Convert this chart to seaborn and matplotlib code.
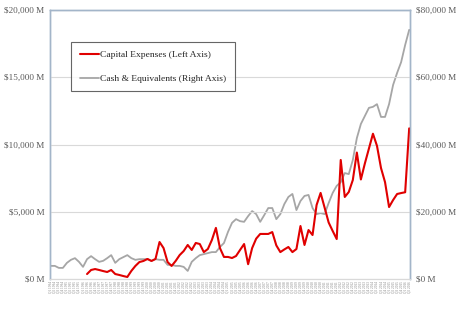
import numpy as np
import pandas as pd
import matplotlib
matplotlib.use("Agg")
import matplotlib.pyplot as plt
import seaborn as sns
from matplotlib.ticker import FuncFormatter, FixedLocator

# ---- data (values in $ billions, converted to $M below) ----
quarters = [f"Q{q} {y}" for y in range(1994, 2017) for q in range(1, 5)][:90]

capex_b = [None] * 9 + [
    0.37, 0.67, 0.74, 0.67, 0.59, 0.52, 0.67, 0.37, 0.30, 0.22,
    0.15, 0.60, 0.97, 1.26, 1.34, 1.49, 1.34, 1.49, 2.75, 2.30,
    1.26, 0.97, 1.34, 1.78, 2.08, 2.53, 2.16, 2.68, 2.60, 2.00,
    2.23, 2.90, 3.80, 2.30, 1.64, 1.64, 1.56, 1.71, 2.16, 2.60,
    1.10, 2.30, 3.00, 3.35, 3.35, 3.35, 3.49, 2.50, 2.00, 2.20,
    2.38, 2.00, 2.23, 3.94, 2.53, 3.64, 3.27, 5.50, 6.40, 5.30,
    4.20, 3.57, 2.97, 8.85, 6.10, 6.47, 7.36, 9.40, 7.40, 8.60,
    9.70, 10.80, 9.90, 8.25, 7.20, 5.35, 5.87, 6.32, 6.39, 6.45, 11.20,
]

cash_b = [
    3.9, 3.9, 3.3, 3.3, 4.8, 5.7, 6.2, 5.1, 3.6, 5.9,
    6.8, 5.9, 5.1, 5.4, 6.2, 7.1, 4.8, 5.9, 6.5, 7.1,
    6.2, 5.7, 5.9, 5.9, 5.9, 5.4, 5.9, 5.7, 5.7, 4.2,
    4.2, 3.9, 3.9, 3.6, 2.4, 5.1, 6.2, 7.1, 7.4, 7.7,
    8.0, 8.0, 9.5, 10.7, 14.0, 16.7, 17.8, 17.2, 17.0, 18.7,
    20.2, 19.3, 17.0, 19.0, 21.1, 21.1, 17.8, 19.3, 22.3, 24.4,
    25.3, 20.5, 23.2, 24.7, 25.0, 21.1, 19.3, 19.6, 19.3, 22.6,
    25.6, 27.7, 28.8, 31.5, 31.2, 35.4, 41.9, 46.1, 48.5, 50.9,
    51.2, 52.0, 48.2, 48.2, 52.0, 57.7, 61.3, 64.5, 69.6, 74.1,
]

left_ticks = [0, 5000, 10000, 15000, 20000]
right_ticks = [0, 20000, 40000, 60000, 80000]

df = pd.DataFrame({
    "pos": np.arange(len(quarters)),
    "quarter": quarters,
    "capex": [np.nan if v is None else v * 1000 for v in capex_b],
    "cash": [v * 1000 for v in cash_b],
})

sns.set_style("white")
plt.rcParams["font.family"] = ["Liberation Serif", "DejaVu Serif"]

fig = plt.figure(figsize=(4.61, 3.25), dpi=100)
ax = fig.add_axes([50 / 461, 1 - 279 / 325, 360 / 461, 269 / 325])
ax2 = ax.twinx()

red = "#e00000"
gray = "#a6a6a6"

sns.lineplot(data=df.dropna(subset=["capex"]), x="pos", y="capex", ax=ax,
             color=red, linewidth=1.5, label="Capital Expenses (Left Axis)",
             legend=False)
sns.lineplot(data=df, x="pos", y="cash", ax=ax2, color=gray, linewidth=1.3,
             label="Cash & Equivalents (Right Axis)", legend=False)

ax.set_zorder(ax2.get_zorder() + 1)
ax.patch.set_visible(False)

ax.set_ylim(0, 20000)
ax2.set_ylim(0, 80000)
ax.set_xlim(-0.2, len(quarters) - 0.8)

fmt = FuncFormatter(lambda v, p: f"${v:,.0f} M")
ax.yaxis.set_major_locator(FixedLocator(left_ticks))
ax2.yaxis.set_major_locator(FixedLocator(right_ticks))
ax.yaxis.set_major_formatter(fmt)
ax2.yaxis.set_major_formatter(fmt)

ax.grid(axis="y", color="#d9d9d9", linewidth=0.8)
ax.set_axisbelow(True)

ax.set_xticks(df["pos"])
ax.set_xticklabels(df["quarter"], rotation=90, fontsize=2.4, color="#7f7f7f")
ax.tick_params(axis="x", length=0, pad=1.5)
ax.tick_params(axis="y", length=0, labelsize=6.6, labelcolor="#595959", pad=4)
ax2.tick_params(axis="y", length=0, labelsize=6.6, labelcolor="#595959", pad=4)
ax.set_xlabel("")
ax.set_ylabel("")
ax2.set_ylabel("")

spine_c = "#a3b5c9"
for a in (ax, ax2):
    for s in ("left", "right", "top"):
        a.spines[s].set_color(spine_c)
        a.spines[s].set_linewidth(1.0)
    a.spines["bottom"].set_color("#d9d9d9")
    a.spines["bottom"].set_linewidth(0.8)

h1, l1 = ax.get_legend_handles_labels()
h2, l2 = ax2.get_legend_handles_labels()
leg = ax.legend(h1 + h2, l1 + l2, loc="upper left",
                bbox_to_anchor=(21 / 360, 237 / 269), borderaxespad=0,
                frameon=True, fancybox=False, fontsize=6.8,
                labelspacing=1.6, handlelength=2.1, handletextpad=0.1,
                borderpad=0.9)
leg.get_frame().set_edgecolor("#404040")
leg.get_frame().set_linewidth(0.8)
for t in leg.get_texts():
    t.set_color("#262626")

fig.savefig("out.png", dpi=100)
